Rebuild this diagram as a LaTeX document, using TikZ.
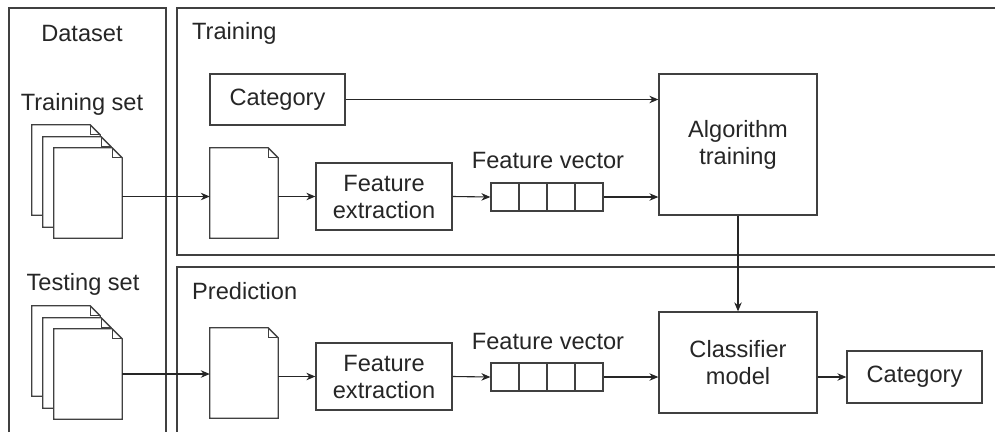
\documentclass[tikz,border=0pt]{standalone}
\usepackage{fontspec}
\setmainfont{Liberation Sans}
\usetikzlibrary{arrows.meta,positioning}

\tikzset{
  frame/.style={draw=black!75, line width=1.3pt},
  box/.style={frame, align=center, inner sep=0pt, text=black!85},
  paper/.style={minimum width=68pt, minimum height=90pt, inner sep=0pt},
  cell/.style={frame, minimum width=28pt, minimum height=28pt, inner sep=0pt},
  link/.style={draw=black!85, line width=1.1pt, -{Stealth[length=9pt,width=7.5pt]}},
  lbl/.style={text=black!85},
}
% page with a folded corner, drawn round an empty node
\newcommand\dogear[1]{%
  \draw[frame,fill=white] (#1.south west) -- (#1.north west) -- ([xshift=-10pt]#1.north east)
    -- ([yshift=-10pt]#1.north east) -- (#1.south east) -- cycle;
  \draw[frame] ([xshift=-10pt]#1.north east) -- ([xshift=-10pt,yshift=-10pt]#1.north east)
    -- ([yshift=-10pt]#1.north east);
}

\begin{document}
\begin{tikzpicture}[x=1pt,y=-1pt,font=\fontsize{23.6}{27}\selectfont]
  \useasboundingbox (0,0) rectangle (995,432);
  %
  \draw[frame] (9,432) -- (9,8) -- (166,8) -- (166,432);
  \draw[frame] (995,8) -- (177,8) -- (177,255) -- (995,255);
  \draw[frame] (995,267) -- (177,267) -- (177,432);
  \node[lbl] (dataset) at (82,33) {Dataset};
  \node[lbl,anchor=west,inner sep=0pt] (training) at (192,33) {Training};
  \node[lbl,anchor=west,inner sep=0pt] (prediction) at (192,291) {Prediction};
  %
  \node[lbl] (trainset) at (82,104) {Training set};
  \node[lbl] (testset) at (83,284) {Testing set};
  \node[paper] (tr1) at (66,170) {};
  \node[paper] (tr2) at (77,182) {};
  \node[paper] (tr3) at (88,193) {};
  \node[paper] (te1) at (66,351) {};
  \node[paper] (te2) at (77,363) {};
  \node[paper] (te3) at (88,374) {};
  \node[paper] (tdoc) at (244,193) {};
  \node[paper] (pdoc) at (244,373) {};
  \foreach \p in {tr1,tr2,tr3,te1,te2,te3,tdoc,pdoc}{
    \dogear{\p}
  }
  %
  \node[box,minimum width=135pt,minimum height=51pt] (cat) at (277.5,99.5) {Category};
  \node[box,minimum width=136pt,minimum height=67pt] (fe) at (384,196.5) {Feature\\extraction};
  \node[box,minimum width=136pt,minimum height=67pt] (pfe) at (384,376.5) {Feature\\extraction};
  \foreach \i in {1,...,4}{
    \node[cell] (tv\i) at (477+28*\i,197) {};
    \node[cell] (pv\i) at (477+28*\i,377) {};
  }
  \node[lbl] (tvlabel) at (548,160) {Feature vector};
  \node[lbl] (pvlabel) at (548,341) {Feature vector};
  \node[box,minimum width=158pt,minimum height=141pt] (alg) at (738,144.5) {Algorithm\\training};
  \node[box,minimum width=158pt,minimum height=101pt] (clf) at (738,362.5) {Classifier\\model};
  \node[box,minimum width=135pt,minimum height=52pt] (pcat) at (914.5,377) {Category};
  %
  \draw[link] (tr3.east |- fe) -- (tdoc.west |- fe);
  \draw[link] (tdoc.east |- fe) -- (fe.west);
  \draw[link] (fe.east) -- (tv1.west);
  \draw[link] (tv4.east) -- (alg.west |- tv4);
  \draw[link] (cat.east) -- (alg.west |- cat);
  \draw[link] (alg.south) -- (clf.north);
  %
  \draw[link] (te3.east) -- (pdoc.west |- te3);
  \draw[link] (pdoc.east |- pfe) -- (pfe.west);
  \draw[link] (pfe.east) -- (pv1.west);
  \draw[link] (pv4.east) -- (clf.west |- pv4);
  \draw[link] (clf.east |- pcat) -- (pcat.west);
\end{tikzpicture}
\end{document}
